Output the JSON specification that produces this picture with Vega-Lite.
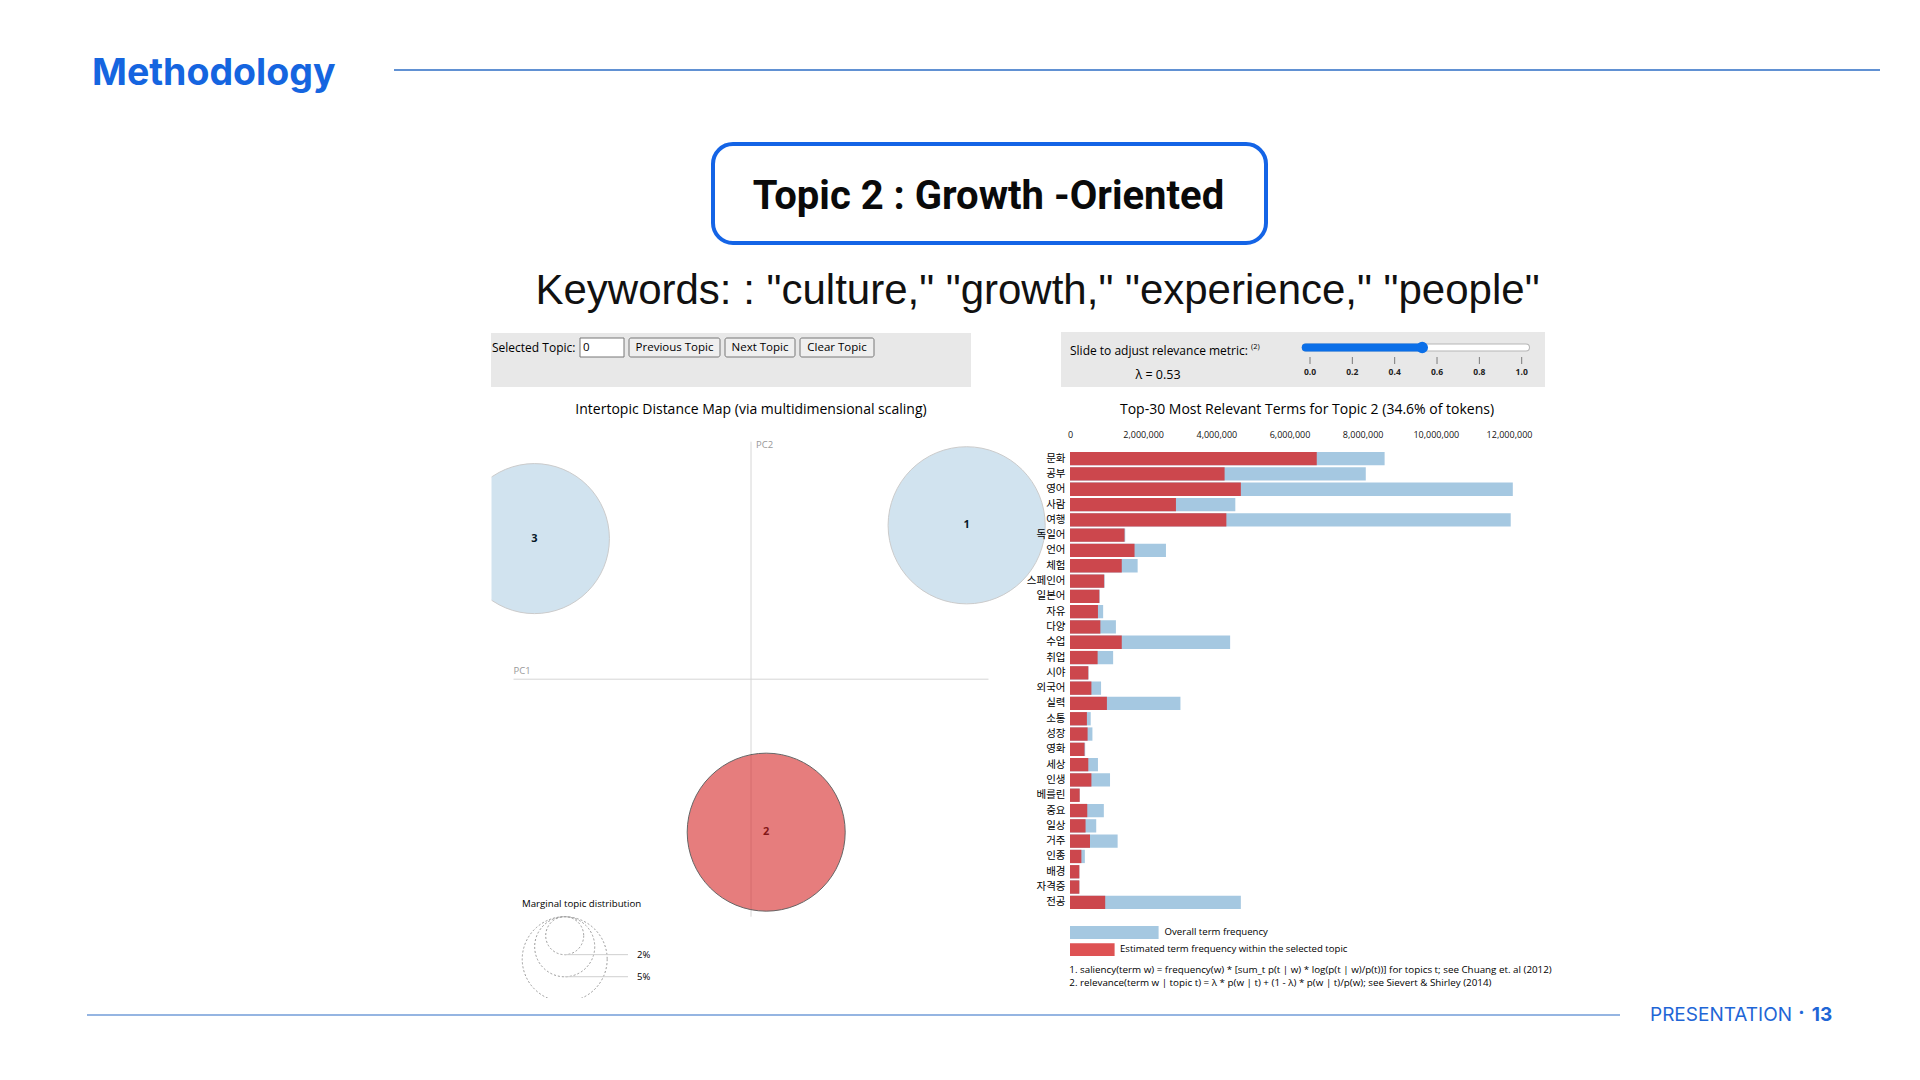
{
"$schema":"https://vega.github.io/schema/vega-lite/v6.json",
"width":1920,"height":1080,"autosize":{"type":"none"},"padding":0,"background":"#ffffff",
"config":{"view":{"stroke":null},"font":"Open Sans","axis":{"grid":false}},
"datasets":{
"terms":[
{"term":"문화","overall":8600000,"topic":6745000},
{"term":"공부","overall":8085000,"topic":4226000},
{"term":"영어","overall":12104000,"topic":4670000},
{"term":"사람","overall":4519000,"topic":2896000},
{"term":"여행","overall":12047000,"topic":4274000},
{"term":"독일어","overall":1510000,"topic":1490000},
{"term":"언어","overall":2623000,"topic":1764000},
{"term":"체험","overall":1849000,"topic":1415000},
{"term":"스페인어","overall":945000,"topic":934000},
{"term":"일본어","overall":810000,"topic":802000},
{"term":"자유","overall":906000,"topic":764000},
{"term":"다양","overall":1255000,"topic":830000},
{"term":"수업","overall":4377000,"topic":1415000},
{"term":"취업","overall":1179000,"topic":755000},
{"term":"시야","overall":505000,"topic":500000},
{"term":"외국어","overall":849000,"topic":585000},
{"term":"실력","overall":3019000,"topic":1009000},
{"term":"소통","overall":566000,"topic":462000},
{"term":"성장","overall":613000,"topic":481000},
{"term":"영화","overall":415000,"topic":396000},
{"term":"세상","overall":764000,"topic":500000},
{"term":"인생","overall":1094000,"topic":585000},
{"term":"베를린","overall":265000,"topic":264000},
{"term":"중요","overall":925000,"topic":472000},
{"term":"일상","overall":717000,"topic":425000},
{"term":"거주","overall":1302000,"topic":547000},
{"term":"인종","overall":406000,"topic":311000},
{"term":"배경","overall":256000,"topic":255000},
{"term":"자격증","overall":256000,"topic":255000},
{"term":"전공","overall":4670000,"topic":962000}
],
"topics":[{"topic":"1","pc1":0.227,"pc2":0.162,"share":0.342},{"topic":"2","pc1":0.016,"pc2":-0.161,"share":0.346},{"topic":"3","pc1":-0.228,"pc2":0.148,"share":0.312}],
"marg":[{"share":0.02,"label":"2%"},{"share":0.05,"label":"5%"},{"share":0.1,"label":"10%"}],
"lambda":[{"lambda":0.53}],
"ticks":[{"v":0,"lab":"0.0"},{"v":0.2,"lab":"0.2"},{"v":0.4,"lab":"0.4"},{"v":0.6,"lab":"0.6"},{"v":0.8,"lab":"0.8"},{"v":1,"lab":"1.0"}],
"one":[{"item":"shape"}]
},
"resolve":{"scale":{"x":"independent","y":"independent","size":"independent","color":"independent"},"axis":{"x":"independent","y":"independent"}},
"layer":[
{"data":{"name":"one"},"mark":{"type":"rect","color":"#e8e8e8"},"encoding":{"x":{"datum":491,"type":"quantitative","scale":{"domain":[0,1920],"range":[0,1920],"nice":false,"zero":false},"axis":null},"x2":{"datum":971},"y":{"datum":333,"type":"quantitative","scale":{"domain":[0,1080],"range":[0,1080],"nice":false,"zero":false},"axis":null},"y2":{"datum":387}}},
{"data":{"name":"one"},"mark":{"type":"rect","color":"#e8e8e8"},"encoding":{"x":{"datum":1061,"type":"quantitative","scale":{"domain":[0,1920],"range":[0,1920],"nice":false,"zero":false},"axis":null},"x2":{"datum":1545},"y":{"datum":332,"type":"quantitative","scale":{"domain":[0,1080],"range":[0,1080],"nice":false,"zero":false},"axis":null},"y2":{"datum":387}}},
{"data":{"values":[{"t":"Selected Topic:"}]},"mark":{"type":"text","align":"left","baseline":"middle","fontSize":12,"color":"#000"},"encoding":{"text":{"field":"t"},"x":{"datum":492,"type":"quantitative","scale":{"domain":[0,1920],"range":[0,1920],"nice":false,"zero":false},"axis":null},"y":{"datum":348,"type":"quantitative","scale":{"domain":[0,1080],"range":[0,1080],"nice":false,"zero":false},"axis":null}}},
{"data":{"name":"one"},"mark":{"type":"rect","fill":"#ffffff","stroke":"#767676","strokeWidth":1},"encoding":{"x":{"datum":580,"type":"quantitative","scale":{"domain":[0,1920],"range":[0,1920],"nice":false,"zero":false},"axis":null},"x2":{"datum":624},"y":{"datum":338,"type":"quantitative","scale":{"domain":[0,1080],"range":[0,1080],"nice":false,"zero":false},"axis":null},"y2":{"datum":357}}},
{"data":{"values":[{"t":"0"}]},"mark":{"type":"text","align":"left","baseline":"middle","fontSize":11.5,"color":"#000"},"encoding":{"text":{"field":"t"},"x":{"datum":583,"type":"quantitative","scale":{"domain":[0,1920],"range":[0,1920],"nice":false,"zero":false},"axis":null},"y":{"datum":348,"type":"quantitative","scale":{"domain":[0,1080],"range":[0,1080],"nice":false,"zero":false},"axis":null}}},
{"data":{"name":"one"},"mark":{"type":"rect","fill":"#efefef","stroke":"#767676","strokeWidth":1,"cornerRadius":2},"encoding":{"x":{"datum":629,"type":"quantitative","scale":{"domain":[0,1920],"range":[0,1920],"nice":false,"zero":false},"axis":null},"x2":{"datum":720},"y":{"datum":338,"type":"quantitative","scale":{"domain":[0,1080],"range":[0,1080],"nice":false,"zero":false},"axis":null},"y2":{"datum":357}}},
{"data":{"values":[{"t":"Previous Topic"}]},"mark":{"type":"text","align":"center","baseline":"middle","fontSize":11.5,"color":"#000"},"encoding":{"text":{"field":"t"},"x":{"datum":674.5,"type":"quantitative","scale":{"domain":[0,1920],"range":[0,1920],"nice":false,"zero":false},"axis":null},"y":{"datum":347.5,"type":"quantitative","scale":{"domain":[0,1080],"range":[0,1080],"nice":false,"zero":false},"axis":null}}},
{"data":{"name":"one"},"mark":{"type":"rect","fill":"#efefef","stroke":"#767676","strokeWidth":1,"cornerRadius":2},"encoding":{"x":{"datum":725,"type":"quantitative","scale":{"domain":[0,1920],"range":[0,1920],"nice":false,"zero":false},"axis":null},"x2":{"datum":795},"y":{"datum":338,"type":"quantitative","scale":{"domain":[0,1080],"range":[0,1080],"nice":false,"zero":false},"axis":null},"y2":{"datum":357}}},
{"data":{"values":[{"t":"Next Topic"}]},"mark":{"type":"text","align":"center","baseline":"middle","fontSize":11.5,"color":"#000"},"encoding":{"text":{"field":"t"},"x":{"datum":760,"type":"quantitative","scale":{"domain":[0,1920],"range":[0,1920],"nice":false,"zero":false},"axis":null},"y":{"datum":347.5,"type":"quantitative","scale":{"domain":[0,1080],"range":[0,1080],"nice":false,"zero":false},"axis":null}}},
{"data":{"name":"one"},"mark":{"type":"rect","fill":"#efefef","stroke":"#767676","strokeWidth":1,"cornerRadius":2},"encoding":{"x":{"datum":800,"type":"quantitative","scale":{"domain":[0,1920],"range":[0,1920],"nice":false,"zero":false},"axis":null},"x2":{"datum":874},"y":{"datum":338,"type":"quantitative","scale":{"domain":[0,1080],"range":[0,1080],"nice":false,"zero":false},"axis":null},"y2":{"datum":357}}},
{"data":{"values":[{"t":"Clear Topic"}]},"mark":{"type":"text","align":"center","baseline":"middle","fontSize":11.5,"color":"#000"},"encoding":{"text":{"field":"t"},"x":{"datum":837,"type":"quantitative","scale":{"domain":[0,1920],"range":[0,1920],"nice":false,"zero":false},"axis":null},"y":{"datum":347.5,"type":"quantitative","scale":{"domain":[0,1080],"range":[0,1080],"nice":false,"zero":false},"axis":null}}},
{"data":{"values":[{"t":"Slide to adjust relevance metric:"}]},"mark":{"type":"text","align":"left","baseline":"middle","fontSize":12,"color":"#000"},"encoding":{"text":{"field":"t"},"x":{"datum":1070,"type":"quantitative","scale":{"domain":[0,1920],"range":[0,1920],"nice":false,"zero":false},"axis":null},"y":{"datum":351,"type":"quantitative","scale":{"domain":[0,1080],"range":[0,1080],"nice":false,"zero":false},"axis":null}}},
{"data":{"values":[{"t":"(2)"}]},"mark":{"type":"text","align":"left","baseline":"middle","fontSize":7.5,"color":"#000"},"encoding":{"text":{"field":"t"},"x":{"datum":1251,"type":"quantitative","scale":{"domain":[0,1920],"range":[0,1920],"nice":false,"zero":false},"axis":null},"y":{"datum":347,"type":"quantitative","scale":{"domain":[0,1080],"range":[0,1080],"nice":false,"zero":false},"axis":null}}},
{"data":{"values":[{"t":"λ = 0.53"}]},"mark":{"type":"text","align":"center","baseline":"middle","fontSize":12.5,"color":"#000"},"encoding":{"text":{"field":"t"},"x":{"datum":1158,"type":"quantitative","scale":{"domain":[0,1920],"range":[0,1920],"nice":false,"zero":false},"axis":null},"y":{"datum":374.5,"type":"quantitative","scale":{"domain":[0,1080],"range":[0,1080],"nice":false,"zero":false},"axis":null}}},
{"data":{"values":[{"t":"Intertopic Distance Map (via multidimensional scaling)"}]},"mark":{"type":"text","align":"center","baseline":"middle","fontSize":14,"color":"#000"},"encoding":{"text":{"field":"t"},"x":{"datum":751,"type":"quantitative","scale":{"domain":[0,1920],"range":[0,1920],"nice":false,"zero":false},"axis":null},"y":{"datum":409.5,"type":"quantitative","scale":{"domain":[0,1080],"range":[0,1080],"nice":false,"zero":false},"axis":null}}},
{"data":{"values":[{"t":"Top-30 Most Relevant Terms for Topic 2 (34.6% of tokens)"}]},"mark":{"type":"text","align":"center","baseline":"middle","fontSize":14,"color":"#000"},"encoding":{"text":{"field":"t"},"x":{"datum":1307,"type":"quantitative","scale":{"domain":[0,1920],"range":[0,1920],"nice":false,"zero":false},"axis":null},"y":{"datum":409.5,"type":"quantitative","scale":{"domain":[0,1080],"range":[0,1080],"nice":false,"zero":false},"axis":null}}},
{"data":{"values":[{"t":"Marginal topic distribution"}]},"mark":{"type":"text","align":"left","baseline":"middle","fontSize":9.7,"color":"#000"},"encoding":{"text":{"field":"t"},"x":{"datum":522,"type":"quantitative","scale":{"domain":[0,1920],"range":[0,1920],"nice":false,"zero":false},"axis":null},"y":{"datum":904,"type":"quantitative","scale":{"domain":[0,1080],"range":[0,1080],"nice":false,"zero":false},"axis":null}}},
{"data":{"name":"one"},"mark":{"type":"rule","color":"#d6d6d6","strokeWidth":1},"encoding":{"x":{"datum":0,"type":"quantitative","scale":{"domain":[-0.25,0.25],"range":[513.5,988.5],"nice":false,"zero":false},"axis":null},"y":{"datum":-0.25,"type":"quantitative","scale":{"domain":[-0.25,0.25],"range":[916.7,441.7],"nice":false,"zero":false},"axis":null},"y2":{"datum":0.25}}},
{"data":{"name":"one"},"mark":{"type":"rule","color":"#d6d6d6","strokeWidth":1},"encoding":{"x":{"datum":-0.25,"type":"quantitative","scale":{"domain":[-0.25,0.25],"range":[513.5,988.5],"nice":false,"zero":false},"axis":null},"x2":{"datum":0.25},"y":{"datum":0,"type":"quantitative","scale":{"domain":[-0.25,0.25],"range":[916.7,441.7],"nice":false,"zero":false},"axis":null}}},
{"data":{"values":[{"t":"PC1"}]},"mark":{"type":"text","align":"left","baseline":"bottom","dy":-3,"fontSize":9.5,"color":"#999999"},"encoding":{"text":{"field":"t"},"x":{"datum":-0.25,"type":"quantitative","scale":{"domain":[-0.25,0.25],"range":[513.5,988.5],"nice":false,"zero":false},"axis":null},"y":{"datum":0,"type":"quantitative","scale":{"domain":[-0.25,0.25],"range":[916.7,441.7],"nice":false,"zero":false},"axis":null}}},
{"data":{"values":[{"t":"PC2"}]},"mark":{"type":"text","align":"left","baseline":"top","dx":5,"dy":-2,"fontSize":9.5,"color":"#999999"},"encoding":{"text":{"field":"t"},"x":{"datum":0,"type":"quantitative","scale":{"domain":[-0.25,0.25],"range":[513.5,988.5],"nice":false,"zero":false},"axis":null},"y":{"datum":0.25,"type":"quantitative","scale":{"domain":[-0.25,0.25],"range":[916.7,441.7],"nice":false,"zero":false},"axis":null}}},
{"data":{"name":"topics"},"mark":{"type":"text","align":"center","baseline":"middle","fontSize":11,"fontWeight":"bold","color":"#000"},"encoding":{"text":{"field":"topic"},"x":{"field":"pc1","type":"quantitative","scale":{"domain":[-0.25,0.25],"range":[513.5,988.5],"nice":false,"zero":false},"axis":null},"y":{"field":"pc2","type":"quantitative","scale":{"domain":[-0.25,0.25],"range":[916.7,441.7],"nice":false,"zero":false},"axis":null}}},
{"data":{"name":"topics"},"mark":{"type":"point","shape":"circle","filled":true,"stroke":"#000000","strokeWidth":1},"encoding":{"x":{"field":"pc1","type":"quantitative","scale":{"domain":[-0.25,0.25],"range":[513.5,988.5],"nice":false,"zero":false},"axis":null},"y":{"field":"pc2","type":"quantitative","scale":{"domain":[-0.25,0.25],"range":[916.7,441.7],"nice":false,"zero":false},"axis":null},"size":{"field":"share","type":"quantitative","scale":{"type":"linear","domain":[0,0.346],"range":[0,24964]},"legend":null},"color":{"field":"topic","type":"nominal","scale":{"domain":["1","2","3"],"range":["#1f77b4","#d62728","#1f77b4"]},"legend":null},"opacity":{"condition":{"test":"datum.topic === '2'","value":0.6},"value":0.2}}},
{"data":{"name":"terms"},"mark":{"type":"bar","color":"#a5c8e1"},"encoding":{"y":{"field":"term","type":"nominal","sort":null,"scale":{"range":[451,910],"paddingInner":0.13,"paddingOuter":0.065},"axis":{"orient":"left","offset":-1070,"domain":false,"ticks":false,"tickSize":0,"labelPadding":5,"labelFont":"Noto Sans CJK KR","labelFontSize":10.5,"labelColor":"#000","title":null,"zindex":1,"labelOverlap":false}},"x":{"field":"overall","type":"quantitative","scale":{"domain":[0,12000000],"range":[1070,1509],"nice":false,"zero":true},"axis":{"orient":"top","offset":-440,"values":[0,2000000,4000000,6000000,8000000,10000000,12000000],"format":",.0f","formatType":"number","domain":false,"ticks":false,"tickSize":0,"labelPadding":1,"labelFontSize":9,"labelColor":"#111","title":null,"labelFlush":false,"labelOverlap":false}}}},
{"data":{"name":"terms"},"mark":{"type":"bar","color":"#cc474d"},"encoding":{"y":{"field":"term","type":"nominal","sort":null,"scale":{"range":[451,910],"paddingInner":0.13,"paddingOuter":0.065},"axis":null},"x":{"field":"topic","type":"quantitative","scale":{"domain":[0,12000000],"range":[1070,1509],"nice":false,"zero":true},"axis":null}}},
{"data":{"name":"marg"},"mark":{"type":"point","shape":"circle","filled":false,"color":"#9a9a9a","strokeWidth":1,"strokeDash":[2,2],"opacity":1},"encoding":{"x":{"datum":564.7,"type":"quantitative","scale":{"domain":[0,1920],"range":[0,1920],"nice":false,"zero":false},"axis":null},"y":{"field":"share","type":"quantitative","scale":{"type":"sqrt","domain":[0,0.1],"range":[916.7,959.2],"nice":false,"zero":true},"axis":null},"size":{"field":"share","type":"quantitative","scale":{"type":"linear","domain":[0,0.346],"range":[0,24964]},"legend":null}}},
{"data":{"name":"marg"},"mark":{"type":"rule","color":"#cfcfcf","strokeWidth":1},"encoding":{"x":{"datum":564.7,"type":"quantitative","scale":{"domain":[0,1920],"range":[0,1920],"nice":false,"zero":false},"axis":null},"x2":{"datum":628},"y":{"field":"share","type":"quantitative","scale":{"type":"sqrt","domain":[0,0.1],"range":[916.7,1001.6],"nice":false,"zero":true},"axis":null}}},
{"data":{"name":"marg"},"mark":{"type":"text","align":"left","baseline":"middle","fontSize":9.5,"color":"#000"},"encoding":{"text":{"field":"label"},"x":{"datum":637,"type":"quantitative","scale":{"domain":[0,1920],"range":[0,1920],"nice":false,"zero":false},"axis":null},"y":{"field":"share","type":"quantitative","scale":{"type":"sqrt","domain":[0,0.1],"range":[916.7,1001.6],"nice":false,"zero":true},"axis":null}}},
{"data":{"name":"one"},"mark":{"type":"rule","color":"#b5b5b5","strokeWidth":8,"strokeCap":"round"},"encoding":{"x":{"datum":-0.02,"type":"quantitative","scale":{"domain":[0,1],"range":[1310,1521.7],"nice":false,"zero":false},"axis":null},"x2":{"datum":1.02},"y":{"datum":347.5,"type":"quantitative","scale":{"domain":[0,1080],"range":[0,1080],"nice":false,"zero":false},"axis":null}}},
{"data":{"name":"one"},"mark":{"type":"rule","color":"#ffffff","strokeWidth":6,"strokeCap":"round"},"encoding":{"x":{"datum":-0.02,"type":"quantitative","scale":{"domain":[0,1],"range":[1310,1521.7],"nice":false,"zero":false},"axis":null},"x2":{"datum":1.02},"y":{"datum":347.5,"type":"quantitative","scale":{"domain":[0,1080],"range":[0,1080],"nice":false,"zero":false},"axis":null}}},
{"data":{"name":"lambda"},"mark":{"type":"rule","color":"#0b6fe8","strokeWidth":8,"strokeCap":"round"},"encoding":{"x":{"field":"lambda","type":"quantitative","scale":{"domain":[0,1],"range":[1310,1521.7],"nice":false,"zero":false},"axis":null},"x2":{"datum":-0.02},"y":{"datum":347.5,"type":"quantitative","scale":{"domain":[0,1080],"range":[0,1080],"nice":false,"zero":false},"axis":null}}},
{"data":{"name":"lambda"},"mark":{"type":"point","shape":"circle","filled":true,"color":"#0b6fe8","size":135,"opacity":1},"encoding":{"x":{"field":"lambda","type":"quantitative","scale":{"domain":[0,1],"range":[1310,1521.7],"nice":false,"zero":false},"axis":null},"y":{"datum":347.5,"type":"quantitative","scale":{"domain":[0,1080],"range":[0,1080],"nice":false,"zero":false},"axis":null}}},
{"data":{"name":"ticks"},"mark":{"type":"rule","color":"#7a7a7a","strokeWidth":1},"encoding":{"x":{"field":"v","type":"quantitative","scale":{"domain":[0,1],"range":[1310,1521.7],"nice":false,"zero":false},"axis":null},"y":{"datum":357,"type":"quantitative","scale":{"domain":[0,1080],"range":[0,1080],"nice":false,"zero":false},"axis":null},"y2":{"datum":364}}},
{"data":{"name":"ticks"},"mark":{"type":"text","align":"center","baseline":"middle","fontSize":8.5,"fontWeight":"bold","color":"#222"},"encoding":{"text":{"field":"lab"},"x":{"field":"v","type":"quantitative","scale":{"domain":[0,1],"range":[1310,1521.7],"nice":false,"zero":false},"axis":null},"y":{"datum":372,"type":"quantitative","scale":{"domain":[0,1080],"range":[0,1080],"nice":false,"zero":false},"axis":null}}},
{"data":{"name":"one"},"mark":{"type":"rect","color":"#a5c8e1"},"encoding":{"x":{"datum":1070,"type":"quantitative","scale":{"domain":[0,1920],"range":[0,1920],"nice":false,"zero":false},"axis":null},"x2":{"datum":1158.6},"y":{"datum":926,"type":"quantitative","scale":{"domain":[0,1080],"range":[0,1080],"nice":false,"zero":false},"axis":null},"y2":{"datum":939}}},
{"data":{"values":[{"t":"Overall term frequency"}]},"mark":{"type":"text","align":"left","baseline":"middle","fontSize":9.6,"color":"#000"},"encoding":{"text":{"field":"t"},"x":{"datum":1164.6,"type":"quantitative","scale":{"domain":[0,1920],"range":[0,1920],"nice":false,"zero":false},"axis":null},"y":{"datum":931.5,"type":"quantitative","scale":{"domain":[0,1080],"range":[0,1080],"nice":false,"zero":false},"axis":null}}},
{"data":{"name":"one"},"mark":{"type":"rect","color":"#de5253"},"encoding":{"x":{"datum":1070,"type":"quantitative","scale":{"domain":[0,1920],"range":[0,1920],"nice":false,"zero":false},"axis":null},"x2":{"datum":1114.6},"y":{"datum":943.3,"type":"quantitative","scale":{"domain":[0,1080],"range":[0,1080],"nice":false,"zero":false},"axis":null},"y2":{"datum":956}}},
{"data":{"values":[{"t":"Estimated term frequency within the selected topic"}]},"mark":{"type":"text","align":"left","baseline":"middle","fontSize":9.6,"color":"#000"},"encoding":{"text":{"field":"t"},"x":{"datum":1120,"type":"quantitative","scale":{"domain":[0,1920],"range":[0,1920],"nice":false,"zero":false},"axis":null},"y":{"datum":949,"type":"quantitative","scale":{"domain":[0,1080],"range":[0,1080],"nice":false,"zero":false},"axis":null}}},
{"data":{"values":[{"t":"1. saliency(term w) = frequency(w) * [sum_t p(t | w) * log(p(t | w)/p(t))] for topics t; see Chuang et. al (2012)"}]},"mark":{"type":"text","align":"left","baseline":"middle","fontSize":9.8,"color":"#000"},"encoding":{"text":{"field":"t"},"x":{"datum":1069.3,"type":"quantitative","scale":{"domain":[0,1920],"range":[0,1920],"nice":false,"zero":false},"axis":null},"y":{"datum":970,"type":"quantitative","scale":{"domain":[0,1080],"range":[0,1080],"nice":false,"zero":false},"axis":null}}},
{"data":{"values":[{"t":"2. relevance(term w | topic t) = λ * p(w | t) + (1 - λ) * p(w | t)/p(w); see Sievert & Shirley (2014)"}]},"mark":{"type":"text","align":"left","baseline":"middle","fontSize":9.8,"color":"#000"},"encoding":{"text":{"field":"t"},"x":{"datum":1069.3,"type":"quantitative","scale":{"domain":[0,1920],"range":[0,1920],"nice":false,"zero":false},"axis":null},"y":{"datum":983,"type":"quantitative","scale":{"domain":[0,1080],"range":[0,1080],"nice":false,"zero":false},"axis":null}}},
{"data":{"name":"one"},"mark":{"type":"rect","color":"#ffffff"},"encoding":{"x":{"datum":0,"type":"quantitative","scale":{"domain":[0,1920],"range":[0,1920],"nice":false,"zero":false},"axis":null},"x2":{"datum":491.5},"y":{"datum":430,"type":"quantitative","scale":{"domain":[0,1080],"range":[0,1080],"nice":false,"zero":false},"axis":null},"y2":{"datum":650}}},
{"data":{"name":"one"},"mark":{"type":"rect","color":"#ffffff"},"encoding":{"x":{"datum":480,"type":"quantitative","scale":{"domain":[0,1920],"range":[0,1920],"nice":false,"zero":false},"axis":null},"x2":{"datum":760},"y":{"datum":998,"type":"quantitative","scale":{"domain":[0,1080],"range":[0,1080],"nice":false,"zero":false},"axis":null},"y2":{"datum":1010}}},
{"data":{"values":[{"t":"Methodology"}]},"mark":{"type":"text","align":"left","baseline":"alphabetic","fontSize":37.5,"fontWeight":"bold","font":"Inter","color":"#1565e0"},"encoding":{"text":{"field":"t"},"x":{"datum":92,"type":"quantitative","scale":{"domain":[0,1920],"range":[0,1920],"nice":false,"zero":false},"axis":null},"y":{"datum":84.5,"type":"quantitative","scale":{"domain":[0,1080],"range":[0,1080],"nice":false,"zero":false},"axis":null}}},
{"data":{"name":"one"},"mark":{"type":"rule","color":"#2d6cc5","strokeWidth":1.5},"encoding":{"x":{"datum":394,"type":"quantitative","scale":{"domain":[0,1920],"range":[0,1920],"nice":false,"zero":false},"axis":null},"x2":{"datum":1880},"y":{"datum":70,"type":"quantitative","scale":{"domain":[0,1080],"range":[0,1080],"nice":false,"zero":false},"axis":null}}},
{"data":{"name":"one"},"mark":{"type":"rect","fill":"#ffffff","stroke":"#1464e6","strokeWidth":4,"cornerRadius":20},"encoding":{"x":{"datum":713,"type":"quantitative","scale":{"domain":[0,1920],"range":[0,1920],"nice":false,"zero":false},"axis":null},"x2":{"datum":1266},"y":{"datum":144,"type":"quantitative","scale":{"domain":[0,1080],"range":[0,1080],"nice":false,"zero":false},"axis":null},"y2":{"datum":243}}},
{"data":{"values":[{"t":"Topic 2 : Growth -Oriented"}]},"mark":{"type":"text","align":"center","baseline":"alphabetic","fontSize":40,"fontWeight":"bold","font":"Roboto","color":"#0a0a0a"},"encoding":{"text":{"field":"t"},"x":{"datum":988.5,"type":"quantitative","scale":{"domain":[0,1920],"range":[0,1920],"nice":false,"zero":false},"axis":null},"y":{"datum":209,"type":"quantitative","scale":{"domain":[0,1080],"range":[0,1080],"nice":false,"zero":false},"axis":null}}},
{"data":{"values":[{"t":"Keywords: : \"culture,\" \"growth,\" \"experience,\" \"people\""}]},"mark":{"type":"text","align":"center","baseline":"alphabetic","fontSize":42,"font":"Liberation Sans","color":"#111111"},"encoding":{"text":{"field":"t"},"x":{"datum":1037.5,"type":"quantitative","scale":{"domain":[0,1920],"range":[0,1920],"nice":false,"zero":false},"axis":null},"y":{"datum":304,"type":"quantitative","scale":{"domain":[0,1080],"range":[0,1080],"nice":false,"zero":false},"axis":null}}},
{"data":{"name":"one"},"mark":{"type":"rule","color":"#2d6cc5","strokeWidth":1.2},"encoding":{"x":{"datum":87,"type":"quantitative","scale":{"domain":[0,1920],"range":[0,1920],"nice":false,"zero":false},"axis":null},"x2":{"datum":1620},"y":{"datum":1015,"type":"quantitative","scale":{"domain":[0,1080],"range":[0,1080],"nice":false,"zero":false},"axis":null}}},
{"data":{"values":[{"t":"PRESENTATION"}]},"mark":{"type":"text","align":"left","baseline":"alphabetic","fontSize":19,"font":"Inter","color":"#1f66d6"},"encoding":{"text":{"field":"t"},"x":{"datum":1650,"type":"quantitative","scale":{"domain":[0,1920],"range":[0,1920],"nice":false,"zero":false},"axis":null},"y":{"datum":1020.7,"type":"quantitative","scale":{"domain":[0,1080],"range":[0,1080],"nice":false,"zero":false},"axis":null}}},
{"data":{"values":[{"t":"·"}]},"mark":{"type":"text","align":"center","baseline":"alphabetic","fontSize":19,"fontWeight":"bold","font":"Inter","color":"#1f66d6"},"encoding":{"text":{"field":"t"},"x":{"datum":1801.5,"type":"quantitative","scale":{"domain":[0,1920],"range":[0,1920],"nice":false,"zero":false},"axis":null},"y":{"datum":1019,"type":"quantitative","scale":{"domain":[0,1080],"range":[0,1080],"nice":false,"zero":false},"axis":null}}},
{"data":{"values":[{"t":"13"}]},"mark":{"type":"text","align":"left","baseline":"alphabetic","fontSize":19,"fontWeight":"bold","font":"Inter","color":"#1f66d6"},"encoding":{"text":{"field":"t"},"x":{"datum":1811.7,"type":"quantitative","scale":{"domain":[0,1920],"range":[0,1920],"nice":false,"zero":false},"axis":null},"y":{"datum":1020.7,"type":"quantitative","scale":{"domain":[0,1080],"range":[0,1080],"nice":false,"zero":false},"axis":null}}}
]
}
